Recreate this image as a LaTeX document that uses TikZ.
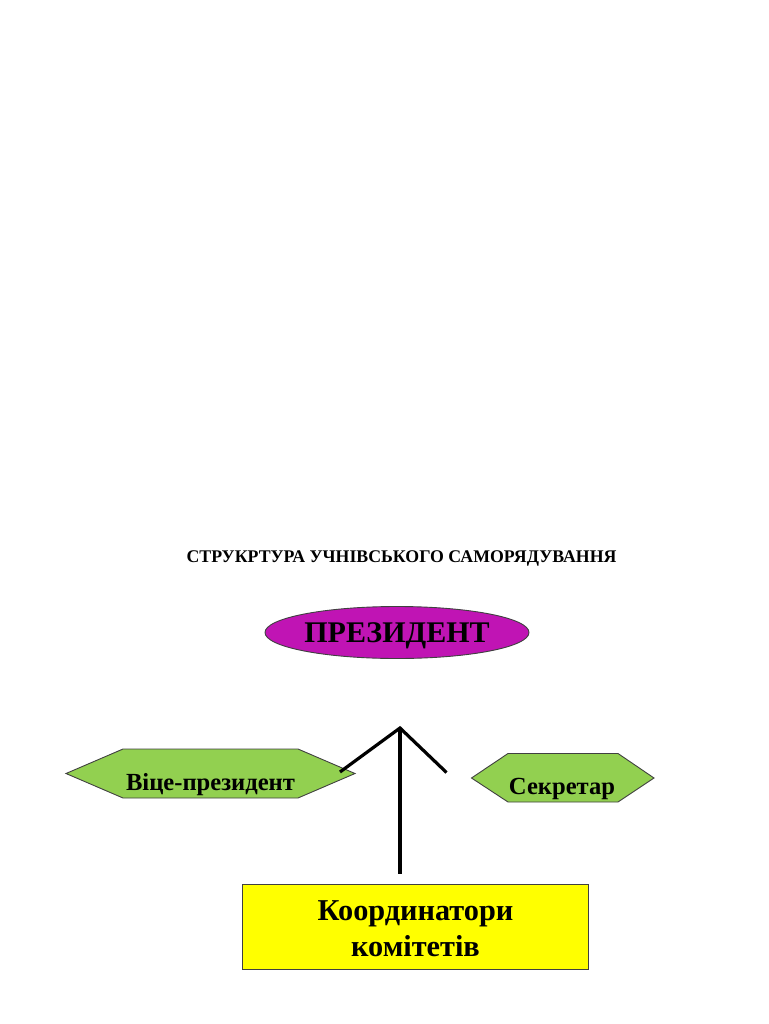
\documentclass[tikz,border=0pt]{standalone}
\usepackage{fontspec}
\setmainfont{Liberation Serif}
\usetikzlibrary{shapes.geometric}
\definecolor{magentaF}{HTML}{C014B4}
\definecolor{greenF}{HTML}{92D050}
\definecolor{yellowF}{HTML}{FFFF00}
\tikzset{
  shapeline/.style={draw=black!75, line width=0.9pt},
  conn/.style={line width=3.2pt, black},
  hexlbl/.style={font=\bfseries\fontsize{24.6}{28}\selectfont, inner sep=0pt, anchor=base},
  boxlbl/.style={font=\bfseries\fontsize{30.3}{34}\selectfont, inner sep=0pt, anchor=base},
}
\begin{document}
\begin{tikzpicture}[x=1pt,y=-1pt]
\useasboundingbox (0,0) rectangle (768,1024);
% title
\node[font=\bfseries\fontsize{17.8}{21}\selectfont, inner sep=0pt, anchor=base] (title) at (401.5,562.5) {СТРУКРТУРА УЧНІВСЬКОГО САМОРЯДУВАННЯ};
% president
\node[ellipse, shapeline, fill=magentaF, minimum width=264pt, minimum height=52pt, inner sep=0pt,
      font=\bfseries\fontsize{30}{34}\selectfont, text height=20pt, text depth=0pt] (pres) at (397,632.5) {ПРЕЗИДЕНТ};
% vice-president hexagon
\draw[shapeline, fill=greenF] (66,773.5) -- (123,749) -- (298,749) -- (355,773.5) -- (298,798) -- (123,798) -- cycle;
\node[hexlbl] (vp) at (210.5,790.5) {Віце-президент};
% secretary hexagon
\draw[shapeline, fill=greenF] (471.5,778) -- (508,753.5) -- (618,753.5) -- (654,778) -- (618,802) -- (508,802) -- cycle;
\node[hexlbl] (sec) at (562,794.5) {Секретар};
% coordinators box
\node[rectangle, shapeline, fill=yellowF, minimum width=346pt, minimum height=84.5pt, inner sep=0pt] (coord) at (415.5,927) {};
\node[boxlbl] (coordA) at (415.5,920.5) {Координатори};
\node[boxlbl] (coordB) at (415.5,956.5) {комітетів};
% connectors
\coordinate (apex) at (400,728);
\coordinate (vpEnd) at (340,772);
\coordinate (secEnd) at (446.5,772.5);
\coordinate (coordEnd) at (400,874);
\draw[conn] (vpEnd) -- (apex) -- (secEnd);
\draw[conn] (apex) -- (coordEnd);
\end{tikzpicture}
\end{document}
